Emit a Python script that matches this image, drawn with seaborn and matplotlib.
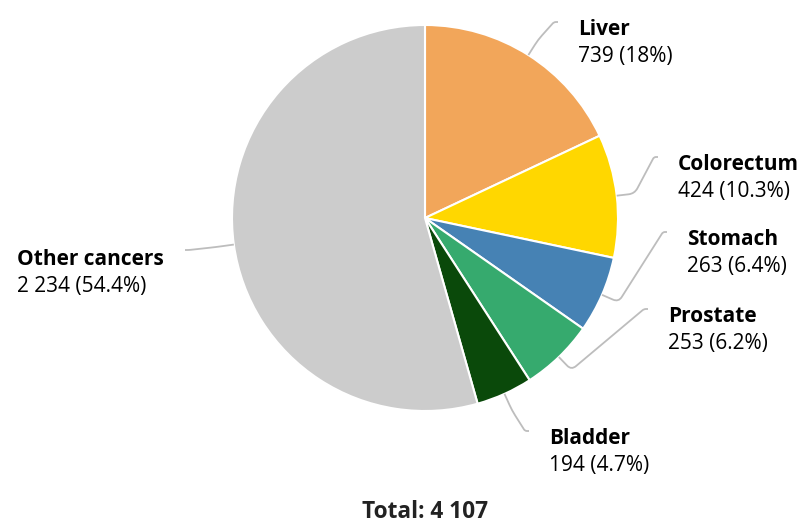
import numpy as np
import matplotlib
matplotlib.use("Agg")
import matplotlib.pyplot as plt
from matplotlib.path import Path
from matplotlib.patches import PathPatch
import seaborn as sns

# ---- data ----
categories = ["Liver", "Colorectum", "Stomach", "Prostate", "Bladder", "Other cancers"]
values = [739, 424, 263, 253, 194, 2234]
colors = ["#F2A65A", "#FFD700", "#4682B4", "#36AA6E", "#0A490A", "#CCCCCC"]
total_prefix = "Total: "

sns.set_theme(style="white")
plt.rcParams['font.family'] = ['Open Sans', 'DejaVu Sans']

W, H = 804, 523
fig = plt.figure(figsize=(W / 100, H / 100), dpi=100)
ax = fig.add_axes([0, 0, 1, 1])

CX, CY, R = 425, H - 218, 193
wedges, _ = ax.pie(values, colors=colors, startangle=90, counterclock=False,
                   center=(CX, CY), radius=R,
                   wedgeprops=dict(edgecolor='white', linewidth=1.5))
ax.set_xlim(0, W)
ax.set_ylim(0, H)
ax.set_aspect('equal')
ax.axis('off')

total = sum(values)


def fmt_num(v):
    return f"{v:,}".replace(",", " ")


def fmt_pct(p):
    s = f"{p:.1f}"
    return s[:-2] if s.endswith(".0") else s


# label layout in pixels: (text x, name baseline y)
label_pos = {
    "Liver": (578, 35),
    "Colorectum": (678, 170),
    "Stomach": (687, 245),
    "Prostate": (668, 322),
    "Bladder": (549, 444),
    "Other cancers": (17, 265),
}


def rounded(points, r=6):
    verts = [points[0]]
    codes = [Path.MOVETO]
    for i in range(1, len(points) - 1):
        p0, p1, p2 = map(np.array, (points[i - 1], points[i], points[i + 1]))
        d1 = p1 - p0
        d2 = p2 - p1
        l1 = np.linalg.norm(d1)
        l2 = np.linalg.norm(d2)
        rr = min(r, l1 / 2, l2 / 2)
        a = p1 - d1 / l1 * rr
        b = p1 + d2 / l2 * rr
        verts += [tuple(a), tuple(p1), tuple(b)]
        codes += [Path.LINETO, Path.CURVE3, Path.CURVE3]
    verts.append(tuple(points[-1]))
    codes.append(Path.LINETO)
    return Path(verts, codes)


line_col = "#BDBDBD"
for w, name, v in zip(wedges, categories, values):
    mid = np.deg2rad((w.theta1 + w.theta2) / 2)
    dx, dy = np.cos(mid), np.sin(mid)
    p0 = np.array([CX + R * dx, CY + R * dy])
    p1 = p0 + 18 * np.array([dx, dy])
    lx, lb = label_pos[name]
    if dx >= 0:
        E = np.array([lx - 20, H - (lb - 13)])
        C = E + np.array([-4, 0])
    else:
        E = np.array([185, H - 250])
        C = E + np.array([4, 0])
    path = rounded([p0, p1, C, E], r=6)
    ax.add_patch(PathPatch(path, facecolor='none', edgecolor=line_col, lw=1.3))
    ax.text(lx, H - lb, name, fontsize=15, fontweight='bold', color='black',
            ha='left', va='baseline')
    ax.text(lx, H - (lb + 27), f"{fmt_num(v)} ({fmt_pct(100 * v / total)}%)",
            fontsize=15, color='black', ha='left', va='baseline')

ax.text(425, H - 518, total_prefix + fmt_num(total), fontsize=16.3, fontweight='bold',
        color='#222222', ha='center', va='baseline')

fig.savefig("out.png", dpi=100, facecolor='white')
